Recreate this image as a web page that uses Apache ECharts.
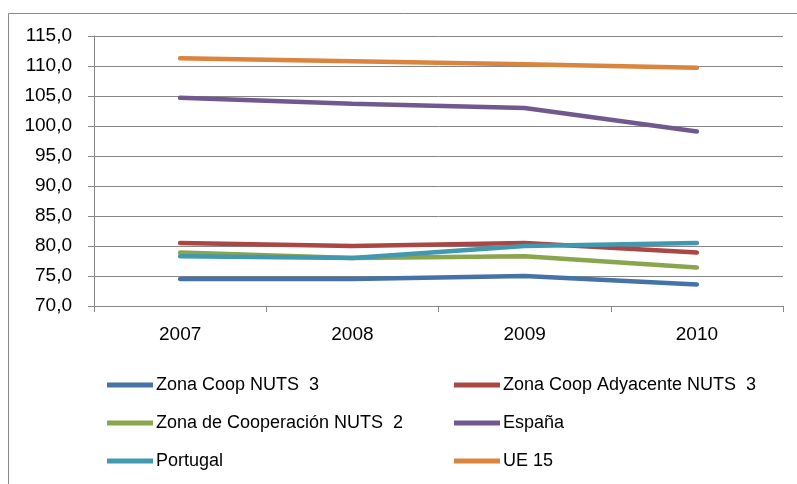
<!DOCTYPE html>
<html>
<head>
<meta charset="utf-8">
<script src="https://cdn.jsdelivr.net/npm/echarts@6/dist/echarts.min.js"></script>
<style>
  html, body { margin: 0; padding: 0; background: #fff; }
  #chart { width: 797px; height: 484px; }
</style>
</head>
<body>
<div id="chart"></div>
<script>
var years = ['2007', '2008', '2009', '2010'];
var seriesNames = ['Zona Coop NUTS  3', 'Zona Coop Adyacente NUTS  3', 'Zona de Cooperación NUTS  2', 'España', 'Portugal', 'UE 15'];
var coopNuts3 = [74.5, 74.5, 75.0, 73.6];
var adyacenteNuts3 = [80.5, 80.0, 80.5, 78.9];
var coopNuts2 = [78.9, 78.0, 78.3, 76.4];
var espana = [104.7, 103.7, 103.0, 99.1];
var portugal = [78.3, 78.0, 80.0, 80.5];
var ue15 = [111.3, 110.8, 110.3, 109.7];
var colors = ['#4572A7', '#AA4643', '#89A54E', '#71588F', '#4198AF', '#DB843D'];

var allData = [coopNuts3, adyacenteNuts3, coopNuts2, espana, portugal, ue15];
var font = '"Liberation Sans", sans-serif';

var chart = echarts.init(document.getElementById('chart'));

var series = [];
for (var i = 0; i < allData.length; i++) {
    series.push({
        name: seriesNames[i],
        type: 'line',
        data: allData[i],
        showSymbol: false,
        symbol: 'none',
        lineStyle: { width: 4.5, color: colors[i], cap: 'round' },
        itemStyle: { color: colors[i] },
        animation: false
    });
}

// legend laid out as two vertical columns of three rows
var legendCommon = {
    orient: 'vertical',
    top: 371,
    itemWidth: 46,
    itemHeight: 18,
    itemGap: 20,
    icon: 'path://M0,0 L46,0 L46,5 L0,5 Z',
    textStyle: { fontFamily: font, fontSize: 18, color: '#000', padding: [0, 0, 0, -2] }
};

var option = {
    animation: false,
    color: colors,
    graphic: [{
        type: 'rect',
        shape: { x: 8.5, y: 13.5, width: 800, height: 480 },
        style: { fill: 'none', stroke: '#888', lineWidth: 1 },
        silent: true
    }],
    grid: { left: 94, right: 14, top: 36, bottom: 178 },
    legend: [
        Object.assign({ left: 102, data: [seriesNames[0], seriesNames[2], seriesNames[4]] }, legendCommon),
        Object.assign({ left: 449, data: [seriesNames[1], seriesNames[3], seriesNames[5]] }, legendCommon)
    ],
    xAxis: {
        type: 'category',
        data: years,
        boundaryGap: true,
        axisLine: { lineStyle: { color: '#868686', width: 1 } },
        axisTick: { show: true, length: 6, lineStyle: { color: '#868686' } },
        axisLabel: { fontFamily: font, fontSize: 19, color: '#000', margin: 19 }
    },
    yAxis: {
        type: 'value',
        min: 70,
        max: 115,
        interval: 5,
        axisLine: { show: true, lineStyle: { color: '#868686', width: 1 } },
        axisTick: { show: true, length: 6, lineStyle: { color: '#868686' } },
        splitLine: { lineStyle: { color: '#868686', width: 1 } },
        axisLabel: {
            fontFamily: font, fontSize: 19, color: '#000', margin: 22,
            formatter: function (v) { return v.toFixed(1).replace('.', ','); }
        }
    },
    series: series
};

chart.setOption(option);
</script>
</body>
</html>
